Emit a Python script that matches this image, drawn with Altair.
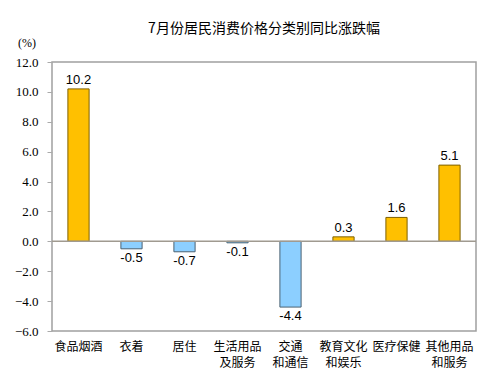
import altair as alt
import pandas as pd

categories = ["食品烟酒", "衣着", "居住", "生活用品|及服务", "交通|和通信", "教育文化|和娱乐", "医疗保健", "其他用品|和服务"]
values = [10.2, -0.5, -0.7, -0.1, -4.4, 0.3, 1.6, 5.1]
y_ticks = [-6, -4, -2, 0, 2, 4, 6, 8, 10, 12]

df = pd.DataFrame({"cat": categories, "val": values})
df["sign"] = ["pos" if v >= 0 else "neg" for v in values]
df["lbl"] = [f"{v:.1f}" for v in values]

SERIF = "'Times New Roman', 'Liberation Serif', serif"

x_axis = alt.Axis(labelExpr="split(datum.label, '|')", labelAngle=0,
                  labelFont="Noto Sans CJK SC", labelFontSize=12, labelColor="#000",
                  ticks=False, domain=False, labelPadding=10, labelLineHeight=16)
x_scale = alt.Scale(paddingInner=0.6, paddingOuter=0.3)
y_scale = alt.Scale(domain=[-6, 12], nice=False, zero=False)
y_axis = alt.Axis(values=y_ticks, format=".1f", grid=False, domain=False,
                  labelFont=SERIF, labelFontSize=13, labelColor="#000",
                  labelOverlap=False, labelFlush=False,
                  tickSize=5, tickColor="#AAAAAA", labelPadding=9, title=None)

def xe():
    return alt.X("cat:N", sort=categories, title=None, scale=x_scale, axis=x_axis)

def ye(field):
    return alt.Y(field, scale=y_scale, axis=y_axis, title=None)

bars = alt.Chart(df).mark_bar(strokeWidth=1).encode(
    x=xe(),
    y=ye("val:Q"),
    y2=alt.datum(0),
    color=alt.Color("sign:N", scale=alt.Scale(domain=["pos", "neg"], range=["#FFC000", "#8CCFFF"]), legend=None),
    stroke=alt.Stroke("sign:N", scale=alt.Scale(domain=["pos", "neg"], range=["#7F6000", "#4A6272"]), legend=None),
)

base = alt.Chart(df)
txt_pos = base.transform_filter("datum.val >= 0").mark_text(
    font="Liberation Sans", fontSize=13, baseline="bottom", dy=-2, color="#000"
).encode(x=xe(), y=ye("val:Q"), text="lbl:N")
txt_neg = base.transform_filter("datum.val < 0").mark_text(
    font="Liberation Sans", fontSize=13, baseline="top", dy=3, color="#000"
).encode(x=xe(), y=ye("val:Q"), text="lbl:N")

zero = alt.Chart(pd.DataFrame({"val": [0]})).mark_rule(color="#A09A90", strokeWidth=1.5).encode(
    y=ye("val:Q"))

unit = alt.Chart(pd.DataFrame({"t": ["(%)"]})).mark_text(
    font=SERIF, fontSize=12, color="#000", align="center", baseline="middle"
).encode(x=alt.value(-25), y=alt.value(-19), text="t:N")

chart = alt.layer(bars, zero, txt_pos, txt_neg, unit).properties(
    width=424, height=269,
    title=alt.TitleParams("7月份居民消费价格分类别同比涨跌幅", font="Noto Sans CJK SC",
                          fontSize=14, fontWeight="normal", color="#000", anchor="middle", offset=1),
    autosize=alt.AutoSizeParams(type="none"),
    padding={"left": 44, "top": 54, "right": 10, "bottom": 38},
).configure_view(stroke="#A0A0A0", strokeWidth=1.5)

chart.save("out.html", embed_options={"renderer": "svg", "actions": False})
